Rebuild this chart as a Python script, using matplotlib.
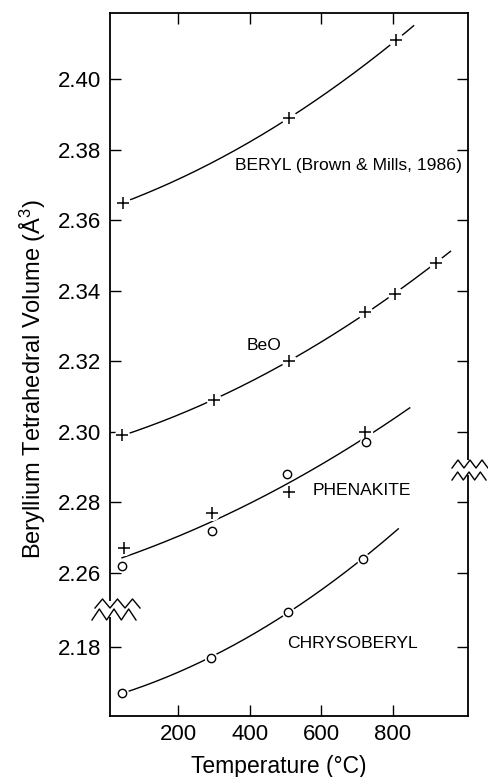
import numpy as np
import matplotlib
matplotlib.use('Agg')
import matplotlib.pyplot as plt
from matplotlib.patches import Rectangle
from matplotlib.lines import Line2D

plt.rcParams['font.family'] = ['Liberation Sans', 'DejaVu Sans']
plt.rcParams['mathtext.fontset'] = 'custom'
plt.rcParams['mathtext.rm'] = 'Liberation Sans'
plt.rcParams['mathtext.it'] = 'Liberation Sans:italic'

# values: temperature (C) and Be tetrahedral volume (A^3)
beryl_t = [45, 510, 809]
beryl_v = [2.365, 2.389, 2.411]
beo_t = [42, 298, 508, 723, 806, 921]
beo_v = [2.299, 2.309, 2.320, 2.334, 2.339, 2.348]
phen_plus_t = [48, 295, 508, 723]
phen_plus_v = [2.267, 2.277, 2.283, 2.300]
phen_circ_t = [42, 295, 504, 725]
phen_circ_v = [2.262, 2.272, 2.288, 2.297]
chrys_t = [43, 291, 506, 715]
chrys_v = [2.167, 2.177, 2.190, 2.205]

# temperature span of each fitted curve
beryl_span = (45, 858)
beo_span = (42, 961)
phen_span = (42, 847)
chrys_span = (43, 815)

x_ticks = [200, 400, 600, 800]
upper_ticks = [2.26, 2.28, 2.30, 2.32, 2.34, 2.36, 2.38, 2.40]
lower_ticks = [2.18]
# chrysoberyl sits below the axis break, drawn shifted up by this amount
break_shift = 0.059

W, H = 489, 777


def px(x, y):
    """pixel position -> figure fraction"""
    return x / W, 1 - y / H


def fit_curve(ax, t, v, span):
    coef = np.polyfit(t, v, 2)
    tt = np.linspace(span[0], span[1], 200)
    ax.plot(tt, np.polyval(coef, tt), color='black', lw=1.0, zorder=2)


def zigzag(fig, x0, x1, y_low, y_high, n=3):
    xs = np.linspace(x0, x1, 2 * n + 1)
    ys = [y_low if i % 2 == 0 else y_high for i in range(2 * n + 1)]
    pts = [px(a, b) for a, b in zip(xs, ys)]
    fig.add_artist(Line2D([p[0] for p in pts], [p[1] for p in pts],
                          transform=fig.transFigure, color='black', lw=1.0,
                          zorder=5))


fig = plt.figure(figsize=(W / 100, H / 100), dpi=100)
left, right = px(109.5, 0)[0], px(468, 0)[0]
top, bottom = px(0, 13)[1], px(0, 716)[1]
ax = fig.add_axes([left, bottom, right - left, top - bottom])

chrys_shifted = [v + break_shift for v in chrys_v]

fit_curve(ax, beryl_t, beryl_v, beryl_span)
fit_curve(ax, beo_t, beo_v, beo_span)
fit_curve(ax, phen_plus_t + phen_circ_t, phen_plus_v + phen_circ_v, phen_span)
fit_curve(ax, chrys_t, chrys_shifted, chrys_span)

# white halos so the curves stop short of the symbols
plus_t = beryl_t + beo_t + phen_plus_t
plus_v = beryl_v + beo_v + phen_plus_v
circ_t = phen_circ_t + chrys_t
circ_v = phen_circ_v + chrys_shifted
ax.plot(plus_t, plus_v, 'o', ms=11, mfc='white', mec='none', zorder=3)
ax.plot(circ_t, circ_v, 'o', ms=9.5, mfc='white', mec='none', zorder=3)
ax.plot(plus_t, plus_v, '+', ms=8.5, mew=1.1, color='black', zorder=4)
ax.plot(circ_t, circ_v, 'o', ms=6, mew=1.0, mfc='white', mec='black',
        zorder=4)

ax.set_xlim(7, 1010)
ax.set_ylim(2.2195, 2.4187)
ax.set_xticks(x_ticks)
ax.set_xticklabels([str(t) for t in x_ticks])
yt = upper_ticks + [v + break_shift for v in lower_ticks]
ax.set_yticks(yt)
ax.set_yticklabels([f'{v:.2f}' for v in upper_ticks + lower_ticks])
ax.tick_params(direction='in', length=8, width=1.0, labelsize=16,
               top=True, right=True, pad=6)
for s in ax.spines.values():
    s.set_linewidth(1.3)

ax.set_xlabel('Temperature (°C)', fontsize=16.5)
ax.xaxis.set_label_coords(0.473, -0.055)
ax.set_ylabel('Beryllium Tetrahedral Volume (Å$^3$)', fontsize=17)
ax.yaxis.set_label_coords(-0.172, 0.479)

ax.text(993, 2.3756, 'BERYL (Brown & Mills, 1986)', fontsize=12.6,
        ha='right', va='center')
ax.text(392, 2.3244, 'BeO', fontsize=12.6, ha='left', va='center')
ax.text(576, 2.2833, 'PHENAKITE', fontsize=12.6, ha='left', va='center')
ax.text(503, 2.2401, 'CHRYSOBERYL', fontsize=12.6, ha='left', va='center')

# axis breaks: left spine and right spine
for (x0, x1, y0, y1) in [(104, 115, 601, 617), (462, 470, 460, 475)]:
    a, b = px(x0, y1)
    c, d = px(x1, y0)
    fig.add_artist(Rectangle((a, b), c - a, d - b, transform=fig.transFigure,
                             facecolor='white', edgecolor='none', zorder=4))
zigzag(fig, 95, 140, 608, 599)
zigzag(fig, 92, 136, 620, 609)
zigzag(fig, 452, 488, 468, 460)
zigzag(fig, 452, 486, 480, 472)

fig.savefig('out.png', dpi=100)
